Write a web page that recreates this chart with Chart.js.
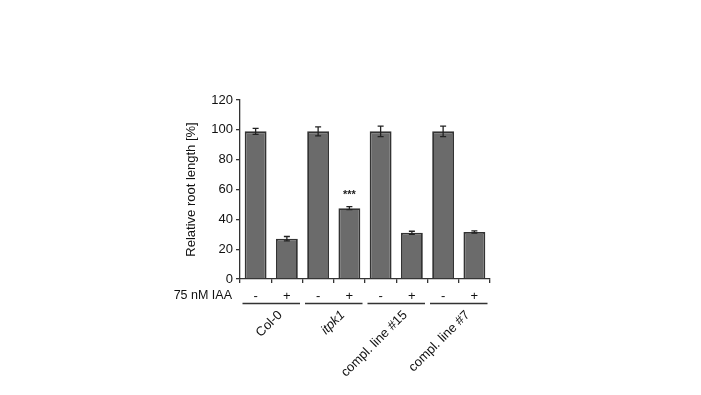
<!DOCTYPE html>
<html>
<head>
<meta charset="utf-8">
<script src="https://cdn.jsdelivr.net/npm/chart.js@4"></script>
<style>
  html, body { margin: 0; padding: 0; background: #fff; }
  #wrap { width: 701px; height: 395px; position: relative; }
</style>
</head>
<body>
<div id="wrap"><canvas id="c" width="701" height="395"></canvas></div>
<script>
// data
const treatment = ['-', '+', '-', '+', '-', '+', '-', '+'];
const rootLength = [99, 27, 99, 47.5, 99, 31, 99, 31.5];
const rootErr = [2, 1.5, 3, 1, 3.5, 1, 3.5, 0.8];
const groups = ['Col-0', 'itpk1', 'compl. line #15', 'compl. line #7'];
const italicGroups = ['itpk1'];
const stars = ['', '', '', '***', '', '', '', ''];
const yTicks = [0, 20, 40, 60, 80, 100, 120];

const FONT = 'Arial, "Liberation Sans", sans-serif';
const INK = '#333333';

// error bars, significance stars, treatment row label, group lines and names
const extras = {
  id: 'extras',
  afterDatasetsDraw(chart) {
    const { ctx, scales: { x, y } } = chart;
    const meta = chart.getDatasetMeta(0);
    ctx.save();
    ctx.strokeStyle = '#222';
    ctx.lineWidth = 1.3;
    meta.data.forEach((bar, i) => {
      const top = y.getPixelForValue(rootLength[i] + rootErr[i]);
      const bot = y.getPixelForValue(rootLength[i] - rootErr[i]);
      const cx = bar.x;
      ctx.beginPath();
      ctx.moveTo(cx, top); ctx.lineTo(cx, bot);
      ctx.moveTo(cx - 3, top); ctx.lineTo(cx + 3, top);
      ctx.moveTo(cx - 3, bot); ctx.lineTo(cx + 3, bot);
      ctx.stroke();
      if (stars[i]) {
        ctx.fillStyle = '#222';
        ctx.font = 'bold 11px ' + FONT;
        ctx.textAlign = 'center';
        ctx.textBaseline = 'middle';
        ctx.fillText(stars[i], cx, y.getPixelForValue(rootLength[i] + rootErr[i] + 8));
      }
    });

    // treatment row label
    ctx.fillStyle = '#111';
    ctx.font = '12.5px ' + FONT;
    ctx.textAlign = 'right';
    ctx.textBaseline = 'middle';
    ctx.fillText('75 nM IAA', 232, 296);

    // group underlines and rotated names
    const step = x.getPixelForValue(1) - x.getPixelForValue(0);
    groups.forEach((g, k) => {
      const x0 = x.getPixelForValue(2 * k) - step * 0.42;
      const x1 = x.getPixelForValue(2 * k + 1) + step * 0.42;
      ctx.strokeStyle = '#333';
      ctx.lineWidth = 1.5;
      ctx.beginPath();
      ctx.moveTo(x0, 303.5); ctx.lineTo(x1, 303.5);
      ctx.stroke();
      const cx = (x.getPixelForValue(2 * k) + x.getPixelForValue(2 * k + 1)) / 2;
      ctx.save();
      ctx.translate(cx + 9, 313);
      ctx.rotate(-Math.PI / 4);
      ctx.font = (italicGroups.includes(g) ? 'italic ' : '') + '13px ' + FONT;
      ctx.textAlign = 'right';
      ctx.textBaseline = 'middle';
      ctx.fillStyle = '#111';
      ctx.fillText(g, 0, 0);
      ctx.restore();
    });

    // y axis title
    ctx.save();
    ctx.translate(191, (y.top + y.bottom) / 2);
    ctx.rotate(-Math.PI / 2);
    ctx.font = '13px ' + FONT;
    ctx.textAlign = 'center';
    ctx.textBaseline = 'middle';
    ctx.fillStyle = '#111';
    ctx.fillText('Relative root length [%]', 0, 0);
    ctx.restore();
    ctx.restore();
  }
};

new Chart(document.getElementById('c'), {
  type: 'bar',
  data: {
    labels: treatment,
    datasets: [{
      data: rootLength,
      backgroundColor: '#6b6b6b',
      borderColor: '#333333',
      borderWidth: 1.8,
      categoryPercentage: 1.0,
      barPercentage: 0.7,
    }]
  },
  options: {
    responsive: false, animation: false, devicePixelRatio: 1,
    layout: { padding: { left: 180, right: 211, top: 100, bottom: 86 } },
    plugins: { legend: { display: false }, tooltip: { enabled: false } },
    scales: {
      x: {
        afterFit: s => { s.height = 30; },
        border: { color: INK, width: 1.3 },
        grid: { offset: true, drawOnChartArea: false, tickLength: 4, color: INK, lineWidth: 1.3 },
        ticks: { padding: 6, color: '#111', font: { family: FONT, size: 13 }, maxRotation: 0 }
      },
      y: {
        min: 0, max: 120,
        afterFit: s => { s.width = 60; },
        afterBuildTicks: s => { s.ticks = yTicks.map(v => ({ value: v })); },
        border: { color: INK, width: 1.3 },
        grid: { drawOnChartArea: false, tickLength: 4, color: INK, lineWidth: 1.3 },
        ticks: { padding: 3, color: '#111', font: { family: FONT, size: 13 } }
      }
    }
  },
  plugins: [extras]
});
</script>
</body>
</html>
